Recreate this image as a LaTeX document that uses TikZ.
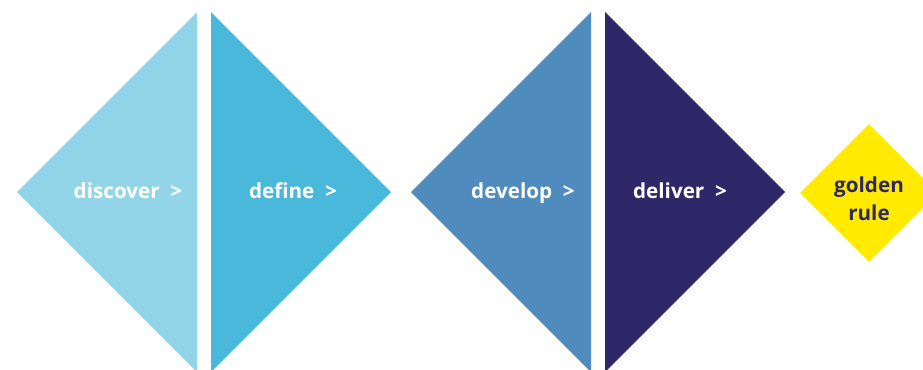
\documentclass[tikz,border=0pt]{standalone}
\usepackage{fontspec}
\setmainfont{Open Sans}
\usetikzlibrary{shapes.geometric}
\definecolor{discovercol}{HTML}{93D5E8}
\definecolor{definecol}{HTML}{4AB8DA}
\definecolor{developcol}{HTML}{4F8BBD}
\definecolor{delivercol}{HTML}{2F2868}
\definecolor{goldcol}{HTML}{FFEA00}
\tikzstyle{stage} = [text=white, inner sep=0pt, anchor=base, font=\bfseries\fontsize{15.5}{18}\selectfont]
\tikzstyle{golden} = [diamond, fill=goldcol, inner sep=0pt, minimum width=103.5pt, minimum height=103.5pt]
\tikzstyle{goldtext} = [text=delivercol, align=center, inner sep=0pt, anchor=base, font=\bfseries\fontsize{15.5}{21}\selectfont]

\begin{document}
\begin{tikzpicture}[x=0.75pt,y=-0.75pt]
\useasboundingbox (0,0) rectangle (923,369);
\clip (0,0) rectangle (923,369);

% first diamond
\fill [discovercol] (17,192) -- (197,12) -- (197,372) -- cycle;
\fill [definecol] (211,12) -- (391,192) -- (211,372) -- cycle;
% second diamond
\fill [developcol] (411,192) -- (591,12) -- (591,372) -- cycle;
\fill [delivercol] (605,12) -- (785,192) -- (605,372) -- cycle;

\node [stage] (discover) at (128,198) {discover\ \ >};
\node [stage] (define) at (293,198) {define\ \ >};
\node [stage] (develop) at (523,198) {develop\ \ >};
\node [stage] (deliver) at (680,198) {deliver\ \ >};

\node [golden] (gold) at (869,193) {};
\node [goldtext] (goldlabel) at (869,220) {golden\\rule};
\end{tikzpicture}
\end{document}
